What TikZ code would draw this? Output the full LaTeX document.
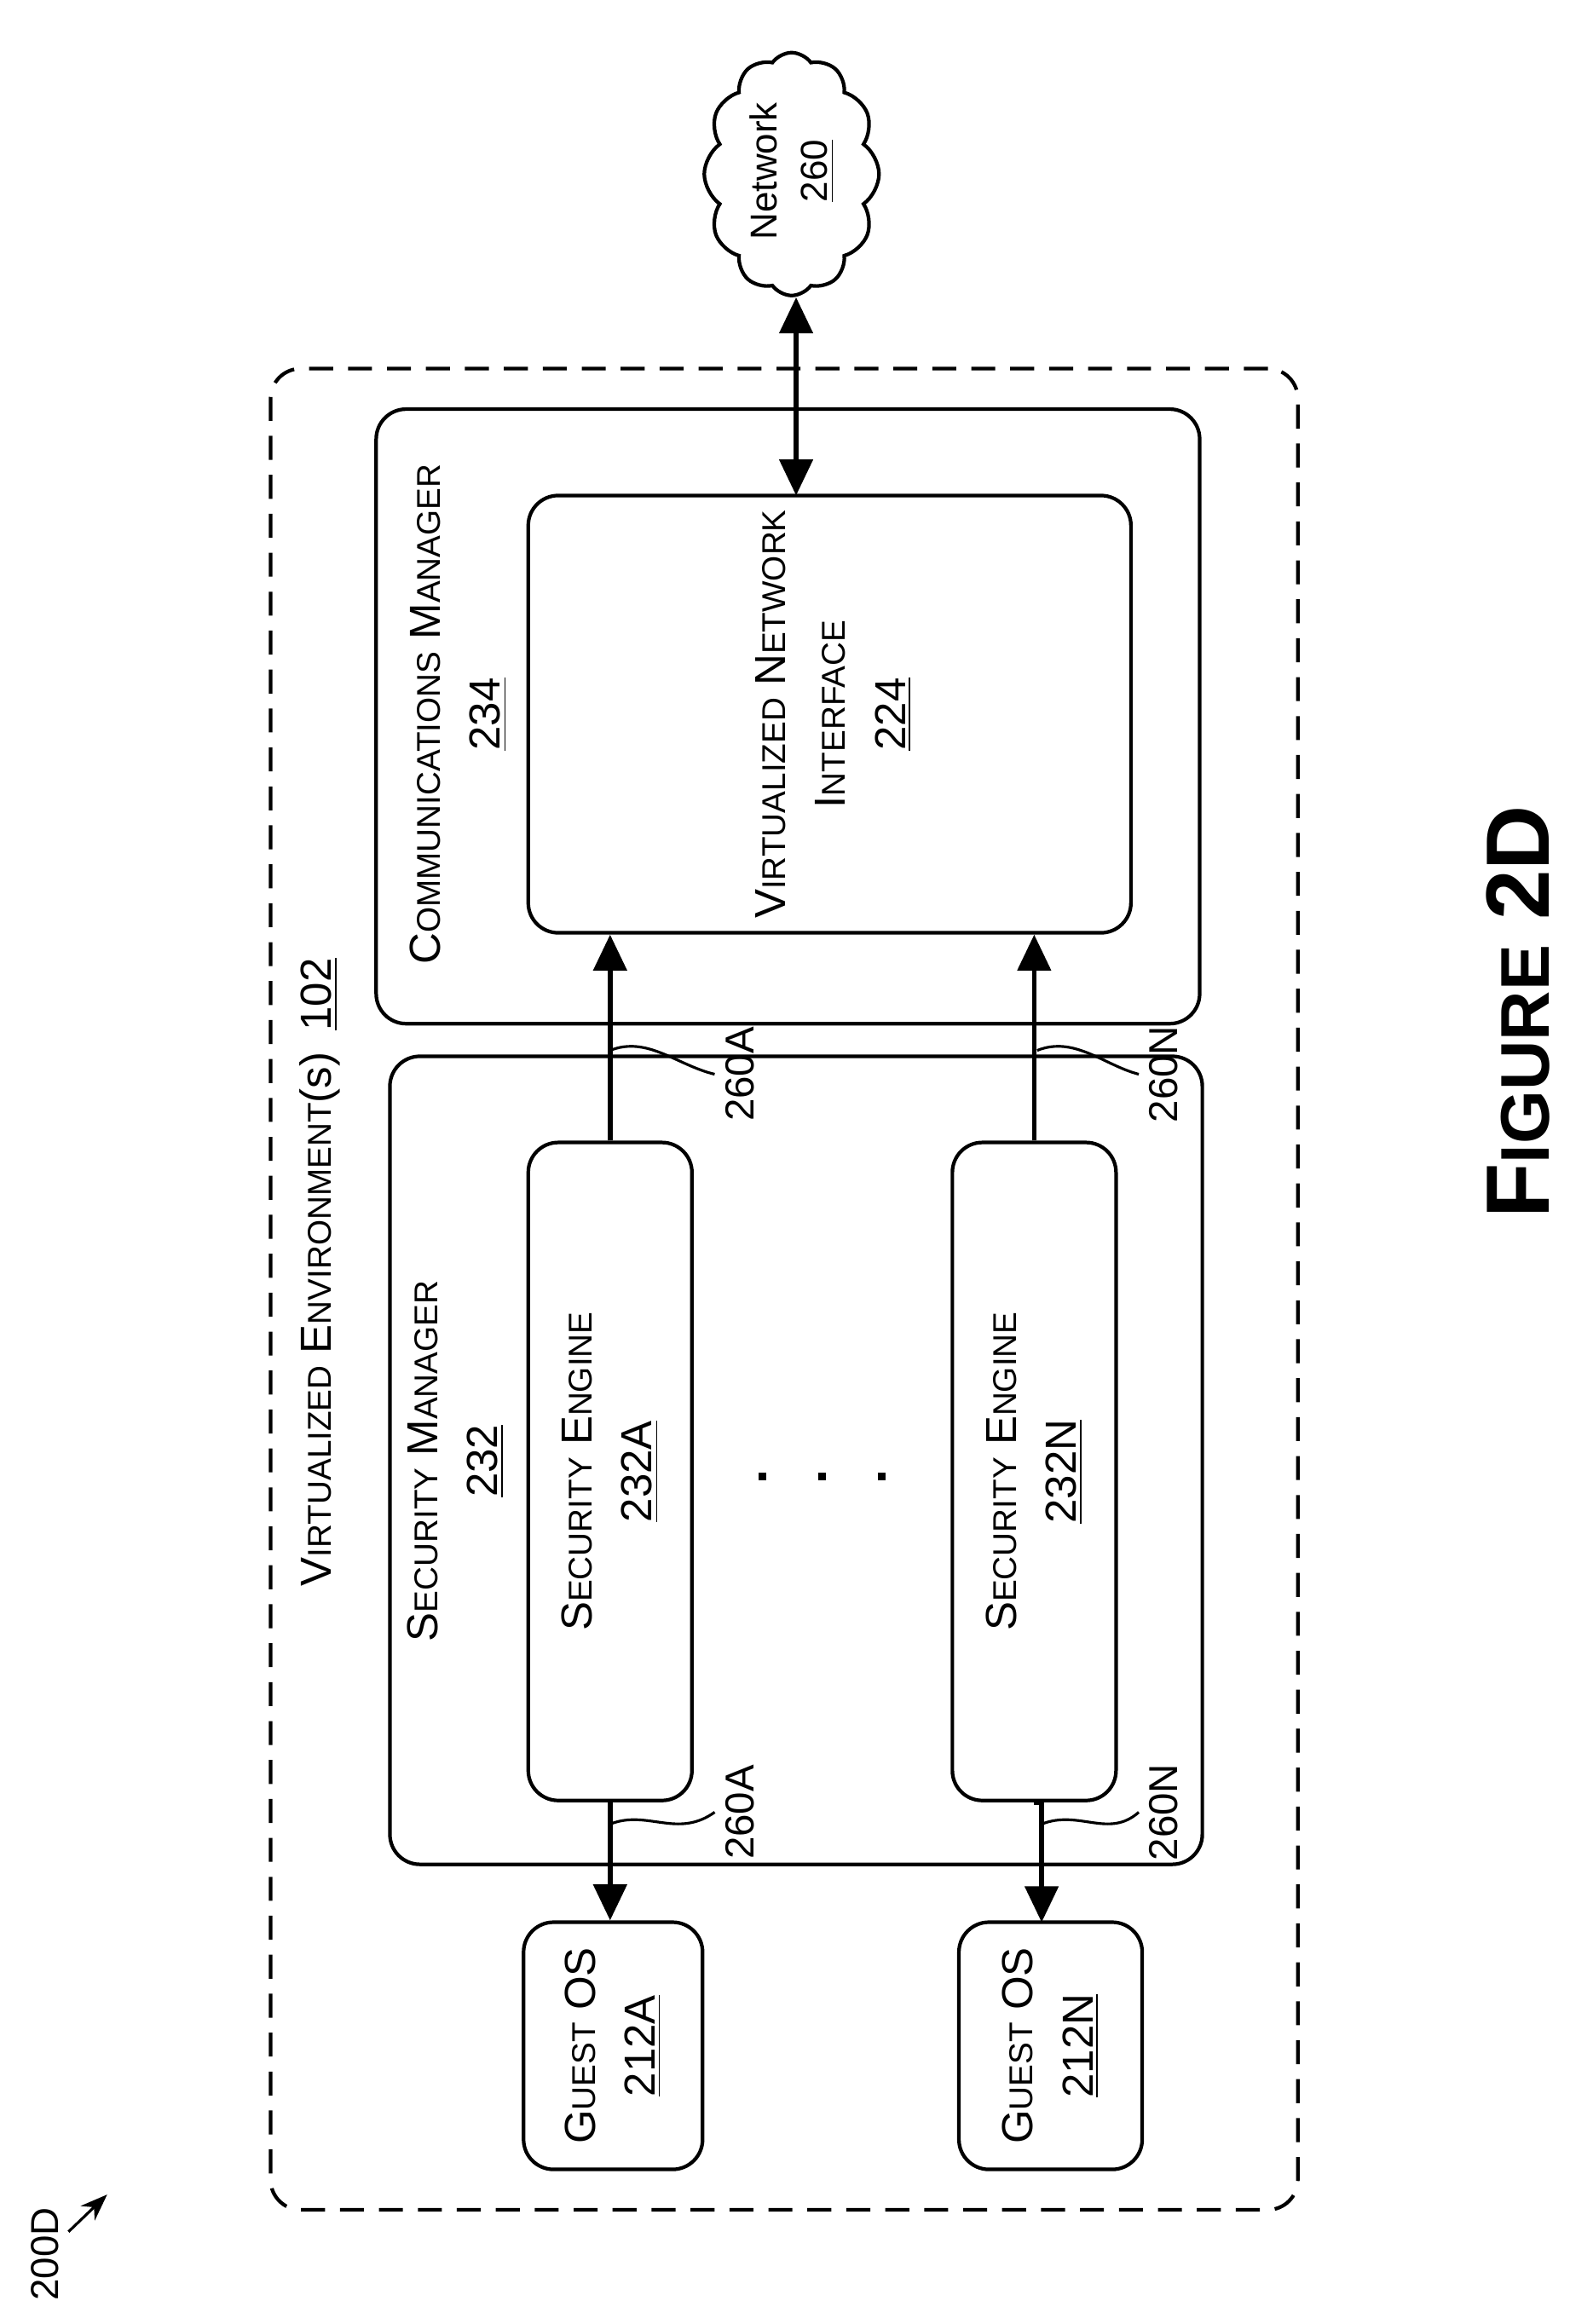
\documentclass[tikz,border=0pt]{standalone}
\usepackage{fontspec}
\setmainfont{Liberation Sans}
\usetikzlibrary{shapes.symbols,arrows.meta}
\newcommand{\capsc}[2]{#1{\fontsize{11}{14}\selectfont\MakeUppercase{#2}}}
\tikzset{
  box/.style={draw, line width=1.2pt, rounded corners=10pt, inner sep=0pt},
  lbl/.style={rotate=90, align=center, font=\fontsize{14.5}{20}\selectfont},
  link/.style={line width=1.6pt, -{Triangle[length=12pt,width=11pt]}},
  lead/.style={line width=0.9pt}
}
\begin{document}
\begin{tikzpicture}[x=0.01746cm, y=-0.01746cm]
\useasboundingbox (0,0) rectangle (1055,1562);

% boxes
\node[box, dash pattern=on 8pt off 5pt, minimum width=12.05cm, minimum height=21.60cm] (venv) at (527,866.5) {};
\node[box, minimum width=9.66cm, minimum height=7.21cm] (comm) at (529.5,481.5) {};
\node[box, minimum width=7.07cm, minimum height=5.13cm] (vni) at (557.5,480) {};
\node[box, minimum width=9.53cm, minimum height=9.48cm] (secm) at (535,981.5) {};
\node[box, minimum width=1.92cm, minimum height=7.72cm] (seA) at (410,989) {};
\node[box, minimum width=1.92cm, minimum height=7.72cm] (seN) at (695,989) {};
\node[box, minimum width=2.10cm, minimum height=2.90cm] (gA) at (412,1375) {};
\node[box, minimum width=2.15cm, minimum height=2.90cm] (gN) at (706,1375) {};
\node[draw, line width=1.2pt, cloud, cloud puffs=12, cloud puff arc=110, aspect=0.72, minimum width=2.05cm, minimum height=2.85cm] (net) at (532,117) {};

% texts
\node[lbl] at (215,855) {\capsc{V}{irtualized} \capsc{E}{nvironment}(s)\enspace\underline{102}};
\node[lbl] at (308,480) {\capsc{C}{ommunications} \capsc{M}{anager}\\\underline{234}};
\node[lbl] at (560,480) {\capsc{V}{irtualized} \capsc{N}{etwork}\\\capsc{I}{nterface}\\\underline{224}};
\node[lbl] at (306,982) {\capsc{S}{ecurity} \capsc{M}{anager}\\\underline{232}};
\node[lbl] at (410,989) {\capsc{S}{ecurity} \capsc{E}{ngine}\\\underline{232A}};
\node[lbl] at (695,989) {\capsc{S}{ecurity} \capsc{E}{ngine}\\\underline{232N}};
\node[lbl] at (412,1375) {\capsc{G}{uest} OS\\\underline{212A}};
\node[lbl] at (706,1375) {\capsc{G}{uest} OS\\\underline{212N}};
\node[lbl, font=\fontsize{12.5}{17}\selectfont] at (532,115) {Network\\\underline{260}};
\node[rotate=90, font=\bfseries\fontsize{30}{36}\selectfont] (fig) at (1020,680) {F{\fontsize{23}{28}\selectfont IGURE} 2D};

% dots
\foreach \x in {510,550,590}
  \fill (\x,990) rectangle ++(5,5);

% connectors
\draw[link, {Triangle[length=12pt,width=11pt]}-{Triangle[length=12pt,width=11pt]}] (net.south -| 535,0) -- (535,333);
\draw[link] (seA.north) -- (seA.north |- vni.south);
\draw[link] (seN.north) -- (seN.north |- vni.south);
\draw[link] (seA.south) -- (seA.south |- gA.north);
\draw[link] (seN.south) -- (seN.south -| 700,0) -- (700,1292);

% leaders and labels
\node[lbl, font=\fontsize{13.5}{18}\selectfont] (l1) at (497,722) {260A};
\node[lbl, font=\fontsize{13.5}{18}\selectfont] (l2) at (497,1218) {260A};
\node[lbl, font=\fontsize{13.5}{18}\selectfont] (l3) at (782,722) {260N};
\node[lbl, font=\fontsize{13.5}{18}\selectfont] (l4) at (782,1218) {260N};
\draw[lead] (410,706) .. controls (435,696) and (455,716) .. (l1.north);
\draw[lead] (410,1226) .. controls (435,1216) and (455,1236) .. (l2.north);
\draw[lead] (697,706) .. controls (722,696) and (742,716) .. (l3.north);
\draw[lead] (700,1226) .. controls (725,1216) and (745,1236) .. (l4.north);

% figure ref
\node[rotate=90, font=\fontsize{13}{16}\selectfont] (ref) at (30,1515) {200D};
\coordinate (refend) at (72,1475);
\draw[lead, -{Stealth[length=9pt]}] (46,1500) -- (refend);
\end{tikzpicture}
\end{document}
